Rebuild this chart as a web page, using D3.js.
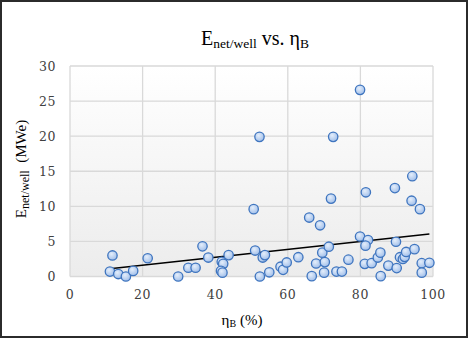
<!DOCTYPE html>
<html><head><meta charset="utf-8">
<script src="https://cdn.jsdelivr.net/npm/d3@7"></script>
<style>body{margin:0;background:#fff}svg{display:block}</style>
</head><body>
<svg id="c" width="468" height="338"></svg>
<script>
const etaB = [11.7,11.0,13.3,15.4,17.4,21.4,29.8,32.6,34.6,36.5,38.1,41.8,42.2,41.6,42.0,43.7,50.6,51.0,52.2,53.1,53.7,52.3,54.9,58.0,58.7,59.7,62.9,65.9,66.6,67.8,68.9,69.5,70.2,70.0,71.3,71.9,72.5,73.4,74.9,76.7,79.9,79.9,81.5,82.1,81.4,81.2,83.1,84.8,85.5,85.6,87.7,89.5,89.8,90.0,90.9,91.7,92.2,92.6,94.3,94.1,94.9,96.4,96.9,99.0,96.9];
const eNet = [3.0,0.7,0.35,0.0,0.8,2.6,0.0,1.25,1.25,4.3,2.7,2.1,1.8,0.8,0.55,3.05,9.6,3.7,19.9,2.7,3.05,0.0,0.6,1.4,0.95,2.0,2.75,8.4,0.05,1.85,7.3,3.4,2.05,0.55,4.25,11.1,19.9,0.7,0.7,2.4,26.6,5.7,12.0,5.2,4.4,1.8,1.9,2.7,3.4,0.05,1.55,12.6,4.95,1.2,2.75,2.5,2.8,3.5,14.3,10.8,3.9,9.6,1.9,1.95,0.55];
const trendX = [11, 99];
const trendY = [1.1, 6.05];
const xTicks = [0,20,40,60,80,100];
const yTicks = [0,5,10,15,20,25,30];

const svg = d3.select('#c');
const defs = svg.append('defs');
const bg = defs.append('linearGradient').attr('id','bg').attr('x1',0).attr('y1',0).attr('x2',0).attr('y2',1);
bg.append('stop').attr('offset','0%').attr('stop-color','#ffffff');
bg.append('stop').attr('offset','100%').attr('stop-color','#ececec');
const mg = defs.append('radialGradient').attr('id','mk').attr('cx','40%').attr('cy','35%').attr('r','65%');
mg.append('stop').attr('offset','0%').attr('stop-color','#e4eefb');
mg.append('stop').attr('offset','100%').attr('stop-color','#a3c0ea');

svg.append('rect').attr('x',1).attr('y',1).attr('width',466).attr('height',336)
  .attr('fill','#fff').attr('stroke','#2b2b2b').attr('stroke-width',2);

const L=70, R=433, T=66, B=276.5;
const x = d3.scaleLinear().domain([0,100]).range([L,R]);
const y = d3.scaleLinear().domain([0,30]).range([B,T]);

svg.append('rect').attr('x',L).attr('y',T).attr('width',R-L).attr('height',B-T).attr('fill','url(#bg)');

const g = svg.append('g');
g.selectAll('.gx').data(xTicks).join('line')
  .attr('x1',d=>x(d)).attr('x2',d=>x(d)).attr('y1',T).attr('y2',B)
  .attr('stroke','#d9d9d9').attr('stroke-width',1.3);
g.selectAll('.gy').data(yTicks).join('line')
  .attr('y1',d=>y(d)).attr('y2',d=>y(d)).attr('x1',L).attr('x2',R)
  .attr('stroke','#d9d9d9').attr('stroke-width',1.3);

const font = "'Liberation Serif','DejaVu Serif',serif";
const tfont = "'DejaVu Serif',serif";
svg.selectAll('.xt').data(xTicks).join('text')
  .attr('x',d=>x(d)).attr('y',299).attr('text-anchor','middle')
  .attr('font-family',tfont).attr('font-size',12.5).attr('letter-spacing',0.6).attr('fill','#404040').text(d=>d);
svg.selectAll('.yt').data(yTicks).join('text')
  .attr('x',56).attr('y',d=>y(d)+4.5).attr('text-anchor','end')
  .attr('font-family',tfont).attr('font-size',12.5).attr('letter-spacing',0.6).attr('fill','#404040').text(d=>d);

svg.append('line')
  .attr('x1',x(trendX[0])).attr('y1',y(trendY[0]))
  .attr('x2',x(trendX[1])).attr('y2',y(trendY[1]))
  .attr('stroke','#000').attr('stroke-width',1.6);

svg.selectAll('.pt').data(etaB.map((v,i)=>[v,eNet[i]])).join('circle')
  .attr('cx',d=>x(d[0])).attr('cy',d=>y(d[1])).attr('r',4.7)
  .attr('fill','url(#mk)').attr('stroke','#3f75bf').attr('stroke-width',1.3);

// title
const t = svg.append('text').attr('x',255).attr('y',45).attr('text-anchor','middle')
  .attr('font-family',font).attr('font-size',20).attr('fill','#000');
t.append('tspan').text('E');
t.append('tspan').attr('font-size',13.5).attr('dy',3).text('net/well');
t.append('tspan').attr('dy',-3).text(' vs. η');
t.append('tspan').attr('font-size',13.5).attr('dy',3).text('B');

// x label
const xl = svg.append('text').attr('x',242).attr('y',325).attr('text-anchor','middle')
  .attr('font-family',font).attr('font-size',15).attr('fill','#000');
xl.append('tspan').text('η');
xl.append('tspan').attr('font-size',10).attr('dy',2).text('B');
xl.append('tspan').attr('dy',-2).text(' (%)');

// y label
const yl = svg.append('text').attr('transform','translate(26,169) rotate(-90)').attr('text-anchor','middle')
  .attr('font-family',font).attr('font-size',15).attr('fill','#000');
yl.append('tspan').text('E');
yl.append('tspan').attr('font-size',12).attr('dy',2.5).text('net/well');
yl.append('tspan').attr('dy',-2.5).attr('xml:space','preserve').text('  (MWe)');
</script>
</body></html>
